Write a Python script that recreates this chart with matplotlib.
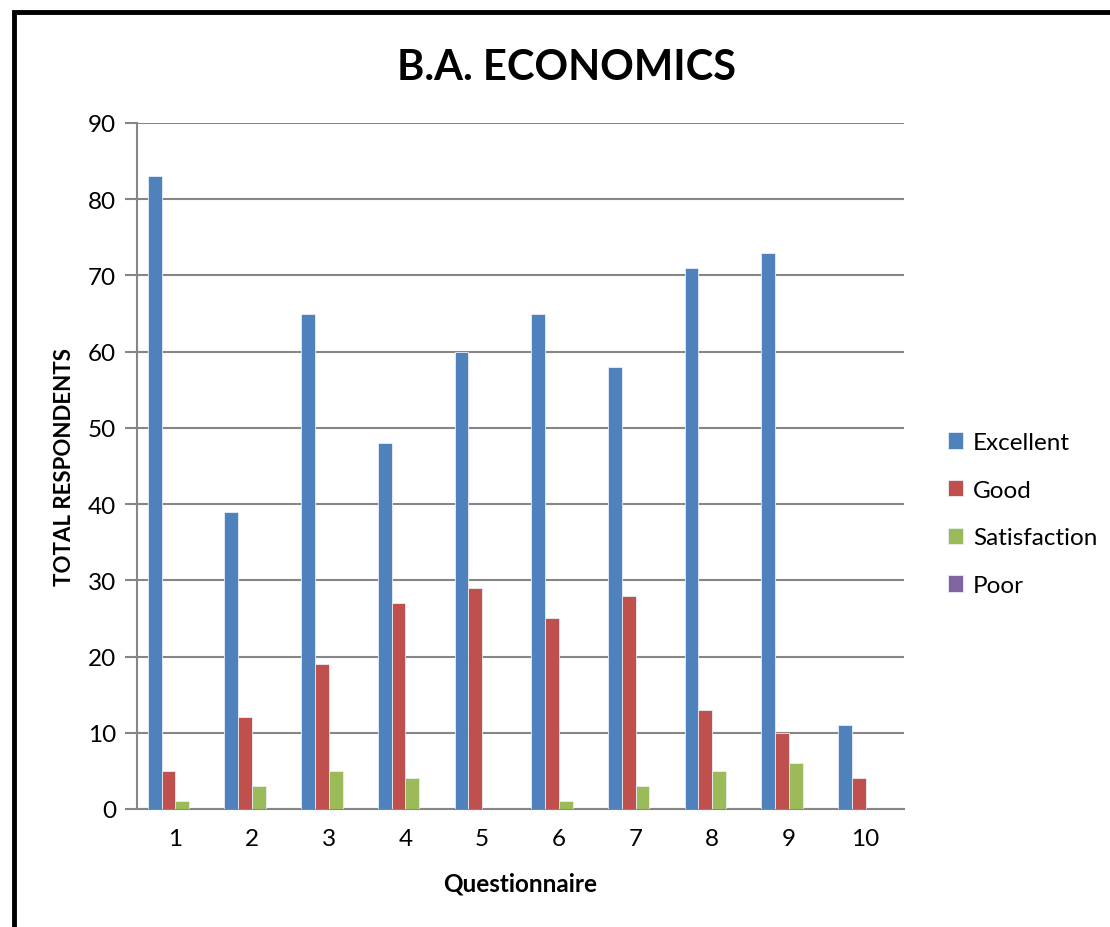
import matplotlib.pyplot as plt
import numpy as np
from matplotlib.patches import Rectangle

plt.rcParams['font.family'] = ['Lato', 'DejaVu Sans']

questions = ['1', '2', '3', '4', '5', '6', '7', '8', '9', '10']
excellent = [83, 39, 65, 48, 60, 65, 58, 71, 73, 11]
good = [5, 12, 19, 27, 29, 25, 28, 13, 10, 4]
satisfaction = [1, 3, 5, 4, 0, 1, 3, 5, 6, 0]
poor = [0, 0, 0, 0, 0, 0, 0, 0, 0, 0]

series = [('Excellent', excellent, '#4F81BD'),
          ('Good', good, '#C0504D'),
          ('Satisfaction', satisfaction, '#9BBB59'),
          ('Poor', poor, '#8064A2')]

fig = plt.figure(figsize=(11.1, 9.28), dpi=100)
ax = fig.add_axes([0.1234, 0.1272, 0.691, 0.7392])

x = np.arange(len(questions))
w = 0.18
for i, (name, vals, col) in enumerate(series):
    ax.bar(x + (i - 1.5) * w, vals, w, color=col, edgecolor='#e8eef6',
           linewidth=0.6, label=name, zorder=3)

ax.set_xlim(-0.5, len(questions) - 0.5)
ax.set_ylim(0, 90)
ax.set_yticks(range(0, 91, 10))
ax.set_xticks(x)
ax.set_xticklabels(questions)
ax.tick_params(axis='y', length=9, width=1.5, color='#868686', labelsize=17.5, pad=6)
ax.tick_params(axis='x', length=0, labelsize=17.5, pad=14)
ax.grid(axis='y', color='#868686', linewidth=1.5, zorder=0)
for s in ['top', 'right']:
    ax.spines[s].set_visible(False)
for s in ['left', 'bottom']:
    ax.spines[s].set_color('#868686')
    ax.spines[s].set_linewidth(1.5)

ax.set_ylabel('TOTAL RESPONDENTS', fontsize=16, fontweight='bold', labelpad=9)
ax.set_xlabel('Questionnaire', fontsize=17.5, fontweight='bold', labelpad=16)
fig.text(0.51, 0.927, 'B.A. ECONOMICS', ha='center', va='center',
         fontsize=30, fontweight='bold')

fig.legend(loc='center left', bbox_to_anchor=(0.834, 0.445), frameon=False,
           fontsize=17.5, handlelength=0.65, handleheight=0.65, handletextpad=0.4,
           labelspacing=1.1)

fig.patches.append(Rectangle((0.0125, -0.1), 1.2, 1.0855, transform=fig.transFigure,
                             fill=False, edgecolor='black', linewidth=3.5))

fig.savefig('out.png', dpi=100)
